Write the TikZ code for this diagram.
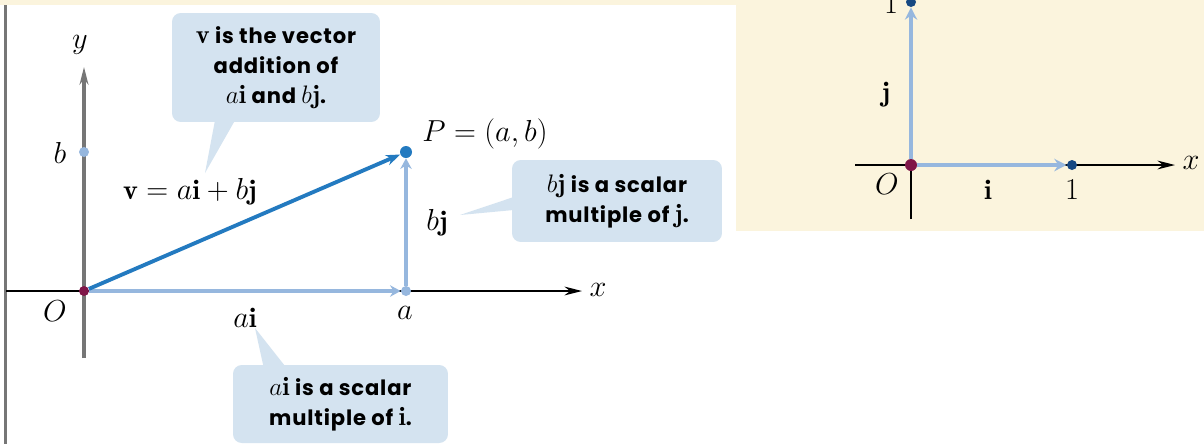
\documentclass[tikz,border=0pt]{standalone}
\usepackage{amsmath}
\usepackage{fontspec}
\newfontfamily\callfont{Poppins}[LetterSpace=4]
\usetikzlibrary{arrows.meta,calc}
\definecolor{cream}{RGB}{251,244,221}
\definecolor{callbg}{RGB}{212,227,240}
\definecolor{vecpale}{RGB}{150,183,222}
\definecolor{vecblue}{RGB}{35,122,192}
\definecolor{originred}{RGB}{128,22,72}
\definecolor{unitblue}{RGB}{22,72,130}
\definecolor{axisgray}{RGB}{118,118,118}
\newcommand{\cmath}[1]{{\fontsize{15}{17}\selectfont$#1$}}
\tikzset{
  call/.style  ={rectangle, rounded corners=5pt, fill=callbg, align=center,
                 inner sep=0pt, font=\callfont\bfseries\fontsize{12}{17}\selectfont},
  lbl/.style   ={inner sep=1pt, font=\fontsize{16}{19}\selectfont},
  dotn/.style  ={circle, inner sep=0pt, minimum size=#1},
  axisk/.style ={line width=1pt, -{Stealth[length=10pt,width=5pt]}},
  vecp/.style  ={vecpale, line width=2.4pt, -{Stealth[length=6pt,width=6.5pt]}},
  vecu/.style  ={vecpale, line width=2.6pt, -{Stealth[length=7pt,width=7pt]}},
  vecv/.style  ={vecblue, line width=2.2pt, -{Stealth[length=8pt,width=6pt]}},
}

\begin{document}
\begin{tikzpicture}[x=0.02cm, y=-0.02cm]
\useasboundingbox (0,0) rectangle (1204,444);
\fill[white] (0,0) rectangle (1204,444);
\fill[cream] (0,0) rectangle (1204,5);
\fill[cream] (736,0) rectangle (1204,231);
\fill[axisgray] (4,5) rectangle (6.5,444);

% left figure
\coordinate (xl) at (6,291);
\coordinate (xr) at (582,291);
\coordinate (yd) at (84,358);
\coordinate (yu) at (84,67);
\draw[axisk] (xl) -- (xr);
\draw[axisgray, line width=1.8pt, -{Stealth[length=10pt,width=5pt]}] (yd) -- (yu);

\node[dotn=0.2cm, fill=originred] (O) at (84,291) {};
\node[dotn=0.2cm, fill=vecpale] (a) at (406,291) {};
\node[dotn=0.2cm, fill=vecpale] (b) at (84,152) {};
\node[dotn=0.24cm, fill=vecblue] (P) at (406,152) {};

\draw[vecp] (O) -- (a);
\draw[vecp] (a) -- (P);
\draw[vecv] (O) -- (P);

\node[lbl] (ylab) at (80,45) {$y$};
\node[lbl] (xlab) at (598,290) {$x$};
\node[lbl] (blab) at (60,153) {$b$};
\node[lbl] (Olab) at (55,311) {$O$};
\node[lbl] (alab) at (405,313) {$a$};
\node[lbl] (ailab) at (245,318) {$a\mathbf{i}$};
\node[lbl] (bjlab) at (437,223) {$b\mathbf{j}$};
\node[lbl] (vlab) at (190,192) {$\mathbf{v} = a\mathbf{i} + b\mathbf{j}$};
\node[lbl] (Plab) at (485,134) {$P = (a, b)$};

\node[call, minimum width=4.16cm, minimum height=2.18cm] (c1) at (276,67.5)
  {\cmath{\mathbf{v}} is the vector\\addition of\\\cmath{a\mathbf{i}} and \cmath{b\mathbf{j}}.};
\node[call, minimum width=4.2cm, minimum height=1.64cm] (c2) at (617,201)
  {\cmath{b\mathbf{j}} is a scalar\\multiple of \cmath{\mathbf{j}}.};
\node[call, minimum width=4.3cm, minimum height=1.56cm] (c3) at (340.5,404)
  {\cmath{a\mathbf{i}} is a scalar\\multiple of \cmath{\mathbf{i}}.};

\coordinate (t1) at (205,173);
\coordinate (t2) at (460,215);
\coordinate (t3) at (255,328);
\fill[callbg] ($(c1.south)+(-61,-2)$) -- (t1) -- ($(c1.south)+(-41,-2)$) -- cycle;
\fill[callbg] ($(c2.west)+(2,-4)$) -- (t2) -- ($(c2.west)+(2,9)$) -- cycle;
\fill[callbg] ($(c3.north)+(-77,2)$) -- (t3) -- ($(c3.north)+(-55,2)$) -- cycle;

% right figure
\coordinate (xl2) at (855,165);
\coordinate (xr2) at (1175,165);
\coordinate (yd2) at (911,219);
\draw[axisk] (xl2) -- (xr2);
\draw[line width=1pt] (yd2) -- (911,165);

\node[dotn=0.24cm, fill=originred] (O2) at (911,165) {};
\node[dotn=0.2cm, fill=unitblue] (ix) at (1072,165) {};
\node[dotn=0.2cm, fill=unitblue] (jy) at (911,2) {};

\draw[vecu] (O2) -- (ix);
\draw[vecu] (O2) -- (jy);

\node[lbl] (xlab2) at (1191,163) {$x$};
\node[lbl] (Olab2) at (887,184) {$O$};
\node[lbl] (ilab) at (988,190) {$\mathbf{i}$};
\node[lbl] (onex) at (1072,190) {$1$};
\node[lbl] (jlab) at (886,95) {$\mathbf{j}$};
\node[lbl] (oney) at (891,4) {$1$};

\end{tikzpicture}
\end{document}
